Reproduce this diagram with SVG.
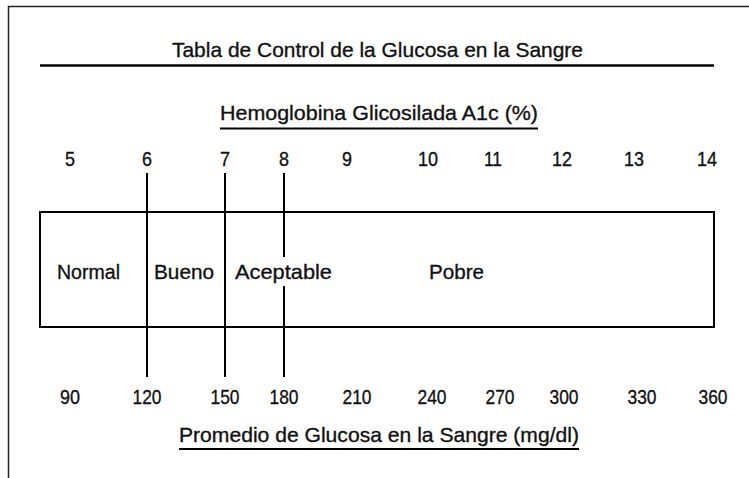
<svg xmlns="http://www.w3.org/2000/svg" width="749" height="478" viewBox="0 0 749 478">
<style>
text{font-family:"Liberation Sans",Arial,sans-serif;font-size:21px;fill:#111;stroke:#111;stroke-width:0.35;}
.n{text-anchor:middle;}
.ln{stroke:#000;stroke-width:2;fill:none;}
</style>
<rect width="749" height="478" fill="#fff"/>
<g id="frame">
<path d="M8.5 478 V6.5 H749" stroke="#222" stroke-width="1.5" fill="none"/>
</g>
<g id="title">
<text x="172" y="57" textLength="411" lengthAdjust="spacingAndGlyphs">Tabla de Control de la Glucosa en la Sangre</text>
<line x1="40" y1="65.5" x2="714" y2="65.5" stroke="#000" stroke-width="2.7"/>
</g>
<g id="a1c-axis">
<text x="220" y="120" textLength="318" lengthAdjust="spacingAndGlyphs">Hemoglobina Glicosilada A1c (%)</text>
<line x1="220" y1="128.5" x2="538" y2="128.5" stroke="#000" stroke-width="2"/>
<text class="n" x="70" y="166" textLength="10" lengthAdjust="spacingAndGlyphs">5</text>
<text class="n" x="147" y="166" textLength="10" lengthAdjust="spacingAndGlyphs">6</text>
<text class="n" x="225" y="166" textLength="10" lengthAdjust="spacingAndGlyphs">7</text>
<text class="n" x="284" y="166" textLength="10" lengthAdjust="spacingAndGlyphs">8</text>
<text class="n" x="347" y="166" textLength="10" lengthAdjust="spacingAndGlyphs">9</text>
<text class="n" x="428" y="166" textLength="20" lengthAdjust="spacingAndGlyphs">10</text>
<text class="n" x="493" y="166" textLength="18" lengthAdjust="spacingAndGlyphs">11</text>
<text class="n" x="562" y="166" textLength="20" lengthAdjust="spacingAndGlyphs">12</text>
<text class="n" x="634" y="166" textLength="20" lengthAdjust="spacingAndGlyphs">13</text>
<text class="n" x="707" y="166" textLength="20" lengthAdjust="spacingAndGlyphs">14</text>
</g>
<g id="chart">
<rect class="ln" x="40" y="212" width="674" height="115"/>
</g>
<g id="connectors">
<line class="ln" x1="147" y1="173" x2="147" y2="377"/>
<line class="ln" x1="225" y1="173" x2="225" y2="377"/>
<line class="ln" x1="284" y1="173" x2="284" y2="257"/>
<line class="ln" x1="284" y1="286" x2="284" y2="377"/>
</g>
<g id="normal"><text x="57" y="279" textLength="63" lengthAdjust="spacingAndGlyphs">Normal</text></g>
<g id="bueno"><text x="154" y="279" textLength="60" lengthAdjust="spacingAndGlyphs">Bueno</text></g>
<g id="aceptable"><text x="235" y="279" textLength="97" lengthAdjust="spacingAndGlyphs">Aceptable</text></g>
<g id="pobre"><text x="429" y="279" textLength="55" lengthAdjust="spacingAndGlyphs">Pobre</text></g>
<g id="glucose-axis">
<text class="n" x="70" y="404" textLength="20" lengthAdjust="spacingAndGlyphs">90</text>
<text class="n" x="147" y="404" textLength="29" lengthAdjust="spacingAndGlyphs">120</text>
<text class="n" x="225" y="404" textLength="29" lengthAdjust="spacingAndGlyphs">150</text>
<text class="n" x="284" y="404" textLength="29" lengthAdjust="spacingAndGlyphs">180</text>
<text class="n" x="357" y="404" textLength="29" lengthAdjust="spacingAndGlyphs">210</text>
<text class="n" x="432" y="404" textLength="29" lengthAdjust="spacingAndGlyphs">240</text>
<text class="n" x="500" y="404" textLength="29" lengthAdjust="spacingAndGlyphs">270</text>
<text class="n" x="564" y="404" textLength="29" lengthAdjust="spacingAndGlyphs">300</text>
<text class="n" x="642" y="404" textLength="29" lengthAdjust="spacingAndGlyphs">330</text>
<text class="n" x="713" y="404" textLength="29" lengthAdjust="spacingAndGlyphs">360</text>
<text x="179" y="442" textLength="400" lengthAdjust="spacingAndGlyphs">Promedio de Glucosa en la Sangre (mg/dl)</text>
<line x1="179" y1="449" x2="579" y2="449" stroke="#000" stroke-width="2"/>
</g>
</svg>
